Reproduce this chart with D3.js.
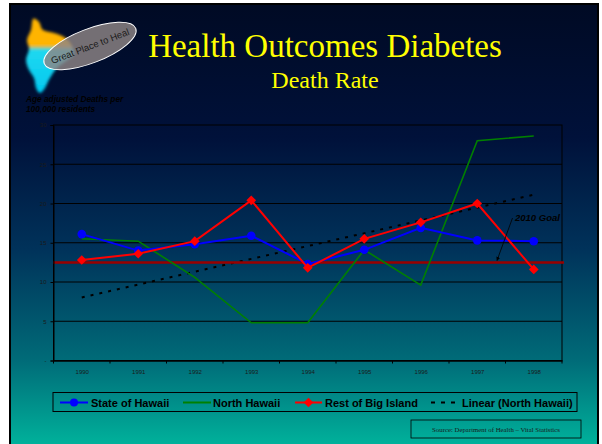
<!DOCTYPE html>
<html><head><meta charset="utf-8">
<script src="https://cdn.jsdelivr.net/npm/d3@7"></script>
<style>html,body{margin:0;padding:0;background:#fff;overflow:hidden}</style>
</head><body>
<svg id="c" width="602" height="444"></svg>
<script>
const years = ["1990","1991","1992","1993","1994","1995","1996","1997","1998"];
const stateHawaii = [16.1, 14.0, 14.8, 15.9, 12.3, 14.1, 16.9, 15.3, 15.2];
const northHawaii = [15.5, 15.2, 10.6, 4.8, 4.8, 14.1, 9.6, 28.0, 28.6];
const restBigIsland = [12.8, 13.6, 15.2, 20.4, 11.8, 15.5, 17.6, 20.0, 11.6];
const goal2010 = 12.5;
const yTicks = [0, 5, 10, 15, 20, 25, 30];
const yTickLabels = ["-", "5", "10", "15", "20", "25", "30"];
const legendNames = ["State of Hawaii", "North Hawaii", "Rest of Big Island", "Linear (North Hawaii)"];

const svg = d3.select("#c");
const defs = svg.append("defs");
const bg = defs.append("linearGradient").attr("id","bg").attr("x1",0).attr("y1",0).attr("x2",0).attr("y2",1);
[[0,"#000a24"],[0.3,"#00113a"],[0.55,"#00325a"],[0.8,"#006b78"],[1,"#00b59d"]].forEach(s=>bg.append("stop").attr("offset",s[0]).attr("stop-color",s[1]));
const isl = defs.append("linearGradient").attr("id","isl").attr("x1",0).attr("y1",0).attr("x2",0).attr("y2",1);
[[0,"#ffb400"],[0.36,"#ffb400"],[0.42,"#20d8f0"],[1,"#00c8f0"]].forEach(s=>isl.append("stop").attr("offset",s[0]).attr("stop-color",s[1]));
const blur = defs.append("filter").attr("id","glow").attr("x","-30%").attr("y","-30%").attr("width","160%").attr("height","160%");
blur.append("feGaussianBlur").attr("stdDeviation",1.6);
defs.append("marker").attr("id","arr").attr("viewBox","0 0 10 10").attr("refX",9).attr("refY",5)
  .attr("markerWidth",5).attr("markerHeight",5).attr("orient","auto")
  .append("path").attr("d","M0,0L10,5L0,10z").attr("fill","#000");

// slide
svg.append("rect").attr("x",10).attr("y",4).attr("width",588).attr("height",445).attr("fill","url(#bg)")
  .attr("stroke","#000").attr("stroke-width",2);

// logo
const islandPts = [[33,19],[39,22],[43,30],[54,33],[64,37],[71,44],[74,54],[66,61],[57,68],[50,78],[45,88],[40,93],[36,88],[34,78],[29,70],[26,60],[29,49],[27,40],[31,30]];
svg.append("path").attr("d", d3.line().curve(d3.curveCardinalClosed)(islandPts))
  .attr("fill","url(#isl)").attr("filter","url(#glow)");
const eg = svg.append("g").attr("transform","translate(90,46) rotate(-21)");
eg.append("ellipse").attr("rx",49).attr("ry",17).attr("fill","#8d8585").attr("fill-opacity",0.82)
  .attr("stroke","#fff").attr("stroke-width",1);
eg.append("text").attr("x",0).attr("y",3.5).attr("text-anchor","middle").attr("font-family","Liberation Sans, Arial")
  .attr("font-size",9.5).attr("fill","#1a1a1a").text("Great Place to Heal");

// titles
svg.append("text").attr("x",325).attr("y",57).attr("text-anchor","middle").attr("font-family","Liberation Serif, Times New Roman")
  .attr("font-size",33).attr("fill","#ffff00").text("Health Outcomes Diabetes");
svg.append("text").attr("x",325).attr("y",88).attr("text-anchor","middle").attr("font-family","Liberation Serif, Times New Roman")
  .attr("font-size",24).attr("fill","#ffff00").text("Death Rate");

// axis title
const at = svg.append("text").attr("font-family","Liberation Sans, Arial").attr("font-size",8.3)
  .attr("font-style","italic").attr("font-weight","bold").attr("fill","#000");
at.append("tspan").attr("x",26).attr("y",102).text("Age adjusted Deaths per");
at.append("tspan").attr("x",26).attr("y",112).text("100,000 residents");

// plot
const L = 53.5, R = 562, T = 125, B = 360.5;
const x = d3.scalePoint().domain(years).range([L, R]).padding(0.5);
const xb = d3.scaleBand().domain(years).range([L, R]);
const y = d3.scaleLinear().domain([0, 30]).range([B, T]);

const g = svg.append("g");
g.selectAll("line.grid").data(yTicks.filter(d=>d>0 && d<30)).join("line")
  .attr("x1",L).attr("x2",R).attr("y1",d=>y(d)).attr("y2",d=>y(d)).attr("stroke","#000").attr("stroke-width",1);
g.append("rect").attr("x",L).attr("y",T).attr("width",R-L).attr("height",B-T).attr("fill","none").attr("stroke","#000").attr("stroke-width",1);

const yAxis = d3.axisLeft(y).tickValues(yTicks).tickSize(3).tickPadding(4).tickFormat((d,i)=>yTickLabels[i]);
const ya = svg.append("g").attr("transform",`translate(${L},0)`).call(yAxis);
ya.select(".domain").attr("stroke","#000");
ya.selectAll("line").attr("stroke","#000");
ya.selectAll("text").attr("font-family","Liberation Sans, Arial").attr("font-size",6).attr("fill","#1a1a1a");

const xAxis = d3.axisBottom(x).tickSize(0).tickPadding(9);
const xa = svg.append("g").attr("transform",`translate(0,${B})`).call(xAxis);
xa.select(".domain").attr("stroke","#000").attr("stroke-width",1.5);
xa.selectAll("text").attr("font-family","Liberation Sans, Arial").attr("font-size",6).attr("fill","#1a1a1a");
xa.selectAll("line.bt").data(years.map(d=>xb(d)).concat([R])).join("line").attr("class","bt")
  .attr("x1",d=>d).attr("x2",d=>d).attr("y1",0).attr("y2",3).attr("stroke","#000");

// trendline (least squares of North Hawaii)
const n = northHawaii.length, idx = d3.range(n);
const mx = d3.mean(idx), my = d3.mean(northHawaii);
const slope = d3.sum(idx, i=>(i-mx)*(northHawaii[i]-my)) / d3.sum(idx, i=>(i-mx)*(i-mx));
const icpt = my - slope*mx;
const trend = [0, n-1].map(i=>[x(years[i]), y(icpt + slope*i)]);
g.append("path").attr("d", d3.line()(trend)).attr("stroke","#000").attr("stroke-width",2)
  .attr("stroke-dasharray","3,6").attr("fill","none");

// goal line
g.append("line").attr("x1",L).attr("x2",R+2).attr("y1",y(goal2010)).attr("y2",y(goal2010))
  .attr("stroke","#990000").attr("stroke-width",2.5);

const line = d3.line().x((d,i)=>x(years[i])).y(d=>y(d));
g.append("path").attr("d", line(northHawaii)).attr("stroke","#008000").attr("stroke-width",1.6).attr("fill","none");
g.append("path").attr("d", line(stateHawaii)).attr("stroke","#0000ff").attr("stroke-width",2).attr("fill","none");
g.selectAll("circle.s").data(stateHawaii).join("circle").attr("class","s")
  .attr("cx",(d,i)=>x(years[i])).attr("cy",d=>y(d)).attr("r",4.3).attr("fill","#0000ff");
g.append("path").attr("d", line(restBigIsland)).attr("stroke","#ff0000").attr("stroke-width",2).attr("fill","none");
const dia = d3.symbol().type(d3.symbolDiamond2).size(60);
g.selectAll("path.r").data(restBigIsland).join("path").attr("class","r")
  .attr("transform",(d,i)=>`translate(${x(years[i])},${y(d)})`).attr("d", dia).attr("fill","#ff0000");

// goal annotation
svg.append("text").attr("x",515).attr("y",221).attr("font-family","Liberation Sans, Arial").attr("font-size",9.5)
  .attr("font-style","italic").attr("font-weight","bold").attr("fill","#000").text("2010 Goal");
svg.append("line").attr("x1",512.5).attr("y1",218).attr("x2",497).attr("y2",260.5).attr("stroke","#000")
  .attr("stroke-width",0.8).attr("marker-end","url(#arr)");

// legend
const lg = svg.append("g");
lg.append("rect").attr("x",53).attr("y",392.5).attr("width",524).attr("height",19).attr("fill","none").attr("stroke","#000").attr("stroke-width",1);
const ly = 402.5;
const items = [
  {x1:60,x2:88,col:"#0000ff",tx:91,m:"c"},
  {x1:183,x2:211,col:"#008000",tx:213,m:null},
  {x1:295,x2:322,col:"#ff0000",tx:325,m:"d"},
  {x1:431,x2:457,col:"#000",tx:462,m:"dash"}
];
items.forEach((it,i)=>{
  const ln = lg.append("line").attr("x1",it.x1).attr("x2",it.x2).attr("y1",ly).attr("y2",ly).attr("stroke",it.col).attr("stroke-width",2);
  if(it.m==="dash") ln.attr("stroke-dasharray","4,6").attr("stroke-width",2.2);
  if(it.m==="c") lg.append("circle").attr("cx",(it.x1+it.x2)/2).attr("cy",ly).attr("r",4).attr("fill",it.col);
  if(it.m==="d") lg.append("path").attr("transform",`translate(${(it.x1+it.x2)/2},${ly})`).attr("d",dia).attr("fill",it.col);
  lg.append("text").attr("x",it.tx).attr("y",ly+4).attr("font-family","Liberation Sans, Arial").attr("font-weight","bold")
    .attr("font-size",11).attr("fill","#000").text(legendNames[i]);
});

// source
svg.append("rect").attr("x",411).attr("y",420).attr("width",170).attr("height",18).attr("fill","none").attr("stroke","#000").attr("stroke-width",0.8);
svg.append("text").attr("x",496).attr("y",432).attr("text-anchor","middle").attr("font-family","Liberation Serif, Times New Roman")
  .attr("font-size",6.8).attr("fill","#1a1a1a").text("Source:  Department of Health \u2013 Vital Statistics");
</script>
</body></html>
